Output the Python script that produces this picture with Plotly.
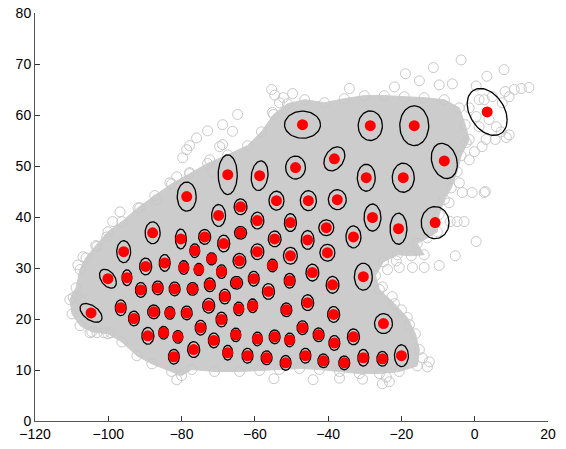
import numpy as np
import plotly.graph_objects as go

# ---- cluster centres (red dots) ----
cx = [-47.0, -28.5, -16.5, 3.4, -67.4, -58.7, -48.9, -38.3, -29.6, -19.5, -8.3,
      -78.6, -69.9, -63.9, -54.1, -45.4, -37.5, -27.9, -20.8, -10.8,
      -87.9, -80.2, -73.7, -68.5, -59.3, -50.3, -40.5, -33.1,
      -95.8, -76.4, -71.8, -63.9, -54.6, -45.6, -59.3, -50.3, -40.2,
      -89.8, -84.6, -79.4, -75.3, -69.1, -64.2, -55.2, -30.4,
      -100.1, -94.9, -91.1, -86.5, -81.9, -77.0, -72.3, -65.0, -60.3, -50.5, -44.3, -38.8,
      -104.7, -96.6, -93.0, -87.6, -83.2, -78.6, -72.6, -69.1, -68.2, -56.3, -64.4, -60.6,
      -51.4, -45.6, -38.5,
      -89.2, -84.9, -81.0, -74.8, -71.2, -65.2, -59.3, -54.6, -50.5, -47.0, -42.6, -38.3,
      -33.1, -24.9,
      -82.1, -76.7, -67.4, -62.0, -56.8, -51.6, -46.2, -41.3, -35.6, -30.4, -25.2, -20.0]
cy = [58.1, 57.9, 57.9, 60.6, 48.3, 48.1, 49.7, 51.4, 47.7, 47.7, 51.0,
      44.0, 40.3, 42.0, 43.2, 43.2, 43.4, 39.9, 37.7, 38.9,
      36.9, 35.7, 36.1, 34.8, 39.3, 38.9, 37.9, 36.1,
      33.2, 33.4, 31.8, 36.9, 35.7, 35.5, 33.2, 32.4, 33.0,
      30.3, 31.0, 30.1, 29.7, 29.3, 31.4, 30.5, 28.3,
      27.9, 28.1, 25.7, 26.1, 25.9, 25.9, 26.7, 27.1, 27.9, 27.5, 29.1, 26.7,
      21.2, 22.2, 20.1, 21.4, 21.2, 21.2, 22.6, 19.9, 24.4, 25.4, 22.0, 22.6,
      21.8, 23.2, 20.9,
      16.7, 17.3, 16.5, 18.3, 15.8, 16.9, 16.1, 16.5, 15.9, 18.3, 16.9, 15.3,
      16.5, 19.1,
      12.6, 14.0, 13.4, 12.8, 12.4, 11.4, 12.8, 11.8, 11.4, 12.4, 12.2, 12.8]
# ---- ellipse half-extents (data units) and correlation ----
rx = [4.9, 3.3, 3.95, 5.45, 2.6, 2.3, 2.7, 2.85, 2.45, 3.0, 3.55,
      2.6, 1.9, 1.75, 2.05, 2.2, 2.45, 2.3, 2.3, 3.8,
      2.05, 1.5, 1.65, 1.65, 1.75, 1.65, 2.05, 2.05,
      1.9, 1.35, 1.35, 1.65, 1.75, 1.75, 1.75, 1.9, 2.05,
      1.65, 1.5, 1.35, 1.25, 1.35, 1.75, 1.35, 2.45,
      2.3, 1.35, 1.5, 1.5, 1.5, 1.5, 1.5, 1.65, 1.5, 1.5, 1.75, 1.75,
      3.0, 1.5, 1.5, 1.65, 1.35, 1.5, 1.65, 1.5, 1.5, 1.65, 1.35, 1.35,
      1.5, 1.65, 1.65,
      1.65, 1.35, 1.35, 1.5, 1.5, 1.35, 1.35, 1.5, 1.35, 1.5, 1.5, 1.5,
      1.65, 2.45,
      1.5, 1.65, 1.35, 1.5, 1.5, 1.5, 1.5, 1.5, 1.5, 1.5, 1.5, 1.9]
ry = [2.65, 2.9, 3.9, 4.6, 3.9, 2.9, 2.25, 2.35, 2.65, 2.85, 3.45,
      2.85, 2.15, 1.55, 1.85, 1.95, 1.95, 2.65, 3.05, 3.15,
      2.15, 1.95, 1.45, 1.65, 1.65, 1.75, 1.55, 2.15,
      2.15, 1.35, 1.2, 1.25, 1.55, 1.85, 1.55, 1.65, 1.65,
      1.65, 1.65, 1.35, 1.2, 1.35, 1.45, 1.25, 2.65,
      1.85, 1.55, 1.45, 1.35, 1.35, 1.25, 1.35, 1.25, 1.45, 1.45, 1.65, 1.65,
      1.85, 1.55, 1.45, 1.35, 1.25, 1.35, 1.45, 1.45, 1.45, 1.55, 1.35, 1.35,
      1.35, 1.55, 1.55,
      1.65, 1.25, 1.25, 1.45, 1.45, 1.35, 1.35, 1.35, 1.35, 1.35, 1.35, 1.45,
      1.55, 1.95,
      1.45, 1.55, 1.45, 1.45, 1.35, 1.45, 1.45, 1.35, 1.35, 1.65, 1.45, 2.15]
rho = [0.0] * len(cx)
for i, r in {3: -0.35, 5: 0.15, 7: 0.3, 10: -0.2, 45: -0.4, 57: -0.5}.items():
    rho[i] = r

# ---- dense data cloud outline ----
cloud_x = [-110.5, -108.8, -107.7, -106.1, -103.4, -100.1, -96.3, -91.9, -87.3, -82.7,
           -77.8, -72.9, -67.4, -62.0, -58.2, -54.9, -51.1, -46.4, -41.0, -35.6, -30.1,
           -24.7, -19.2, -13.8, -8.3, -4.2, -2.6, -1.5, -3.7, -4.8, -6.4, -8.3, -9.7,
           -10.2, -12.9, -15.7, -13.8, -17.3, -21.1, -24.9, -27.1, -26.0, -21.9, -18.4,
           -16.2, -15.1, -15.7,
           -20.6, -26.0, -31.5, -36.9, -42.4, -47.8, -53.3, -58.7, -64.2, -71.0, -77.2,
           -80.0, -82.7, -88.1, -92.2, -96.3, -100.1, -104.5, -107.7, -109.9]
cloud_y = [23.8, 26.1, 29.7, 32.0, 34.4, 37.1, 39.1, 41.8, 44.2, 46.5,
           48.5, 50.5, 52.2, 54.0, 56.7, 60.1, 62.2, 63.0, 62.4, 63.2, 63.8,
           63.8, 63.6, 63.4, 63.0, 61.4, 58.1, 55.2, 52.0, 48.9, 45.7, 43.4, 40.5,
           37.1, 35.9, 34.8, 32.6, 32.4, 32.6, 31.2, 28.5, 25.8, 23.0, 20.3,
           17.1, 14.0, 10.8,
           9.7, 9.3, 9.3, 9.7, 10.1, 10.3, 10.1, 9.9, 9.7, 9.7, 10.1,
           8.9, 9.7, 11.2, 12.8, 15.5, 17.1, 17.5, 18.7, 21.0]

# ---- scattered outlying observations ----
stray_x = [-55.4, -49.7, -64.7, -68.8, -72.9, -75.9, -77.8, -79.7, -83.2, -78.6, -81.3,
           -86.8, -96.8, -100.4, -106.9, -108.3, -55.2, -34.2, -52.2,
           -68.8, -71.5, -77.8, -91.4, -98.8, -103.1, -54.6, -53.3, -66.1, -69.6, -72.3,
           -3.7, -18.9, -11.3, 3.3, 8.0, -21.9, -6.1, 0.4, 8.3, 10.8, 12.7, 14.8,
           9.4, 7.2, 5.6, 2.0, -0.1, -2.3, -1.5, 2.6, -0.7, -3.4, -4.2, -7.0, 1.2, -9.7, -15.1,
           -1.5, 0.4, 2.6, 4.8, 7.5, 3.9, 1.2, 5.9, 3.1, 8.6, 9.4,
           2.9, 0.4, -5.3, -9.7, -13.8, -17.0, -20.6, -23.8, -2.9, -4.8, -6.7, -21.4,
           -25.2, -22.5, -20.0, -17.8, -12.9,
           -81.3, -23.3, -25.2, -14.3, -12.4, -54.8, -44.1, -36.9, -30.6, -24.1,
           -105.0, -103.1, -101.2, -99.3, -109.6, -108.6, -107.7]
stray_y = [65.0, 64.2, 60.1, 58.1, 56.9, 55.5, 54.0, 51.6, 46.7, 53.2, 47.9,
           43.4, 41.0, 36.1, 32.2, 30.6, 60.5, 65.2, 63.4,
           54.2, 48.9, 48.7, 41.8, 39.1, 34.2, 63.9, 62.4, 56.8, 53.8, 51.2,
           70.8, 68.1, 69.3, 67.6, 68.9, 65.5, 66.1, 65.7, 64.6, 65.0, 65.2, 65.4,
           56.1, 56.7, 55.2, 53.8, 52.8, 54.6, 51.2, 44.8, 44.8, 44.8, 46.7, 42.8, 63.0, 65.9, 66.7,
           61.4, 59.7, 63.0, 63.6, 62.4, 59.1, 57.7, 57.7, 55.2, 55.6, 63.6,
           45.0, 35.2, 32.4, 30.5, 30.1, 30.1, 30.1, 29.7, 39.1, 39.1, 39.1, 31.4,
           26.3, 24.4, 21.8, 18.9, 10.6,
           8.1, 7.7, 7.3, 12.4, 11.6, 8.3, 8.1, 8.4, 8.2, 8.6,
           17.3, 17.3, 17.3, 17.3, 24.2, 24.6, 23.8]

grey = "rgb(204,204,204)"
fig = go.Figure()

# dense cloud region
fig.add_trace(go.Scatter(x=cloud_x + cloud_x[:1], y=cloud_y + cloud_y[:1], mode="lines",
                         fill="toself", fillcolor=grey, line=dict(color=grey, width=1),
                         hoverinfo="skip", showlegend=False))
# open circles on the cloud edge and outliers
fig.add_trace(go.Scatter(x=cloud_x + stray_x, y=cloud_y + stray_y, mode="markers",
                         marker=dict(symbol="circle-open", size=10,
                                     color="rgb(200,200,200)", line=dict(width=1)),
                         hoverinfo="skip", showlegend=False))

# ellipses
t = np.linspace(0, 2 * np.pi, 72)
ex, ey = [], []
for x0, y0, a, b, r in zip(cx, cy, rx, ry, rho):
    ex += list(x0 + a * np.cos(t)) + [None]
    ey += list(y0 + b * (r * np.cos(t) + np.sqrt(1 - r * r) * np.sin(t))) + [None]
fig.add_trace(go.Scatter(x=ex, y=ey, mode="lines", line=dict(color="black", width=1.3),
                         hoverinfo="skip", showlegend=False))

# centres
fig.add_trace(go.Scatter(x=cx, y=cy, mode="markers",
                         marker=dict(color="red", size=11, line=dict(width=0)),
                         showlegend=False))

axis_common = dict(showgrid=False, zeroline=False, showline=True, linecolor="#555555",
                   linewidth=1, ticks="inside", ticklen=5, tickcolor="#333333",
                   tickfont=dict(family="Liberation Sans, Arial", size=14, color="black"),
                   mirror=False, automargin=False)
fig.update_xaxes(range=[-120, 20], tickvals=[-120, -100, -80, -60, -40, -20, 0, 20], **axis_common)
fig.update_yaxes(range=[0, 80], tickvals=[0, 10, 20, 30, 40, 50, 60, 70, 80], **axis_common)
fig.update_layout(width=566, height=449, margin=dict(l=35, r=18, t=13, b=28),
                  plot_bgcolor="white", paper_bgcolor="white")

fig.write_html("out.html")
